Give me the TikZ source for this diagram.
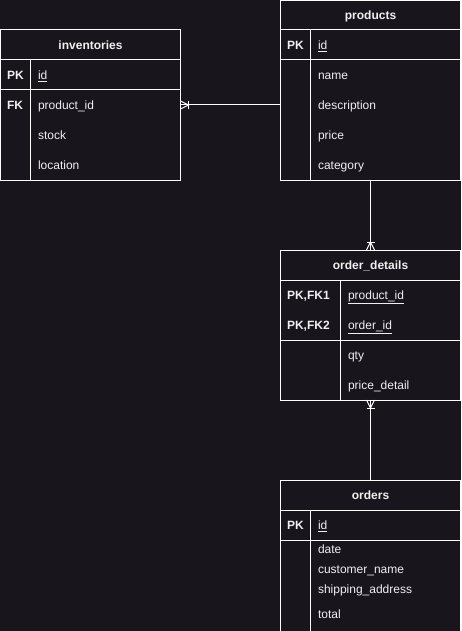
\documentclass[tikz,border=0pt]{standalone}
\usepackage{fontspec}
\setmainfont{Liberation Sans}
\definecolor{canvas}{RGB}{24,21,29}
\definecolor{ink}{RGB}{240,240,240}
\begin{document}
\begin{tikzpicture}[x=1pt,y=-1pt,line width=1pt]
\tikzstyle{every node}+=[inner sep=0pt, outer sep=0pt, text=ink, font=\fontsize{12}{14}\selectfont, text height=9pt, text depth=2.5pt]
\tikzstyle{entity}=[draw=white, rectangle, minimum width=180pt]
\tikzstyle{title}=[yshift=-1pt, font=\fontsize{12}{14}\selectfont\bfseries]
\tikzstyle{field}=[yshift=-1pt, anchor=west]
\tikzstyle{key}=[yshift=-1pt, anchor=west, font=\fontsize{12}{14}\selectfont\bfseries]
\useasboundingbox (0,0) rectangle (461,631);
\fill [canvas] (0,0) rectangle (461,631);
\clip (0,0) rectangle (461,631);
\node [entity, minimum height=150pt] (inventories) at (90.5,105) {};
\draw [white] (0.5,60) -- (180.5,60);
\draw [white] (0.5,90) -- (180.5,90);
\draw [white] (30.5,60) -- (30.5,180);
\node [title] (inventoriesTitle) at (90.5,45) {inventories};
\node [key] (inventoriesPK) at (7,75) {PK};
\node [field] (inventoriesId) at (38,75) {\underline{id}};
\node [key] (inventoriesFK) at (7,105) {FK};
\node [field] (inventoriesProduct) at (38,105) {product\_id};
\node [field] (inventoriesStock) at (38,135) {stock};
\node [field] (inventoriesLocation) at (38,165) {location};
\node [entity, minimum height=179pt] (products) at (370.5,90.5) {};
\draw [white] (280.5,30) -- (460.5,30);
\draw [white] (280.5,60) -- (460.5,60);
\draw [white] (310.5,30) -- (310.5,180);
\node [title] (productsTitle) at (370.5,15) {products};
\node [key] (productsPK) at (287,45) {PK};
\node [field] (productsId) at (318,45) {\underline{id}};
\node [field] (productsName) at (318,75) {name};
\node [field] (productsDescription) at (318,105) {description};
\node [field] (productsPrice) at (318,135) {price};
\node [field] (productsCategory) at (318,165) {category};
\node [entity, minimum height=150pt] (orderDetails) at (370.5,325) {};
\draw [white] (280.5,280) -- (460.5,280);
\draw [white] (280.5,340) -- (460.5,340);
\draw [white] (340.5,280) -- (340.5,400);
\node [title] (orderDetailsTitle) at (370.5,265) {order\_details};
\node [key] (orderDetailsPKa) at (287,295) {PK,FK1};
\node [field] (orderDetailsProduct) at (348,295) {\underline{product\_id}};
\node [key] (orderDetailsPKb) at (287,325) {PK,FK2};
\node [field] (orderDetailsOrder) at (348,325) {\underline{order\_id}};
\node [field] (orderDetailsQty) at (348,355) {qty};
\node [field] (orderDetailsPrice) at (348,385) {price\_detail};
\node [entity, minimum height=160pt] (orders) at (370.5,560) {};
\draw [white] (280.5,510) -- (460.5,510);
\draw [white] (280.5,540) -- (460.5,540);
\draw [white] (310.5,510) -- (310.5,640);
\node [title] (ordersTitle) at (370.5,495) {orders};
\node [key] (ordersPK) at (287,525) {PK};
\node [field] (ordersId) at (318,525) {\underline{id}};
\node [field] (ordersDate) at (318,549) {date};
\node [field] (ordersCustomer) at (318,569) {customer\_name};
\node [field] (ordersAddress) at (318,589) {shipping\_address};
\node [field] (ordersTotal) at (318,614) {total};
\draw [white] (inventories.east) -- (inventories.east -| products.west);
\draw [white] ([yshift=4pt]inventories.east) -- ([xshift=8pt]inventories.east) -- ([yshift=-4pt]inventories.east);
\draw [white] ([xshift=8pt,yshift=4pt]inventories.east) -- ([xshift=8pt,yshift=-4pt]inventories.east);
\draw [white] (products.south) -- (orderDetails.north);
\draw [white] ([xshift=-4pt]orderDetails.north) -- ([yshift=8pt]orderDetails.north) -- ([xshift=4pt]orderDetails.north);
\draw [white] ([xshift=-4pt,yshift=8pt]orderDetails.north) -- ([xshift=4pt,yshift=8pt]orderDetails.north);
\draw [white] (orderDetails.south) -- (orders.north);
\draw [white] ([xshift=-4pt]orderDetails.south) -- ([yshift=-8pt]orderDetails.south) -- ([xshift=4pt]orderDetails.south);
\draw [white] ([xshift=-4pt,yshift=-8pt]orderDetails.south) -- ([xshift=4pt,yshift=-8pt]orderDetails.south);
\end{tikzpicture}
\end{document}
